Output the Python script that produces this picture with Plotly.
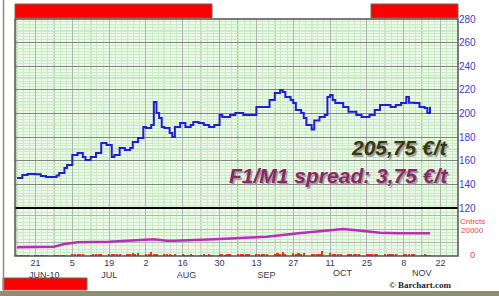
import plotly.graph_objects as go
import pandas as pd

# ---------------- data ----------------
price_dates = ["2010-06-14", "2010-06-16", "2010-06-18", "2010-06-21", "2010-06-23", "2010-06-25",
               "2010-06-28", "2010-06-29", "2010-06-30", "2010-07-02", "2010-07-03", "2010-07-05",
               "2010-07-07", "2010-07-09", "2010-07-10", "2010-07-12", "2010-07-14", "2010-07-16",
               "2010-07-18", "2010-07-20", "2010-07-21", "2010-07-23", "2010-07-25", "2010-07-27",
               "2010-07-28", "2010-07-30", "2010-08-01", "2010-08-02", "2010-08-04", "2010-08-05",
               "2010-08-06", "2010-08-07", "2010-08-08", "2010-08-09", "2010-08-11", "2010-08-12",
               "2010-08-13", "2010-08-15", "2010-08-17", "2010-08-19", "2010-08-20", "2010-08-22",
               "2010-08-24", "2010-08-26", "2010-08-28", "2010-08-30", "2010-08-31", "2010-09-03",
               "2010-09-05", "2010-09-08", "2010-09-10", "2010-09-13", "2010-09-15", "2010-09-18",
               "2010-09-20", "2010-09-22", "2010-09-23", "2010-09-24", "2010-09-26", "2010-09-27",
               "2010-09-28", "2010-09-30", "2010-10-01", "2010-10-02", "2010-10-04", "2010-10-05",
               "2010-10-07", "2010-10-09", "2010-10-10", "2010-10-11", "2010-10-12", "2010-10-13",
               "2010-10-16", "2010-10-18", "2010-10-21", "2010-10-23", "2010-10-26", "2010-10-28",
               "2010-10-30", "2010-11-01", "2010-11-03", "2010-11-05", "2010-11-07", "2010-11-09",
               "2010-11-10", "2010-11-12", "2010-11-14", "2010-11-16", "2010-11-17", "2010-11-18"]
price_vals = [145.5, 147.9, 148.8, 148.5, 147.1, 146.2,
              146.2, 147.5, 149.6, 153.9, 156.4, 164.9,
              166.6, 163.2, 160.6, 163.2, 166.6, 175.0,
              173.3, 163.2, 164.9, 170.8, 169.1, 170.8,
              175.9, 179.3, 188.6, 187.7, 190.3, 209.7,
              200.4, 196.2, 188.6, 187.7, 183.5, 180.1,
              188.6, 192.0, 188.6, 190.3, 192.8, 192.0,
              190.3, 188.6, 190.3, 198.7, 197.0, 198.7,
              200.4, 198.7, 198.7, 205.5, 205.5, 211.4,
              217.4, 219.9, 218.2, 214.0, 211.4, 208.9,
              203.0, 200.4, 196.2, 190.3, 186.5, 194.0,
              197.0, 198.7, 214.0, 215.7, 211.4, 208.9,
              205.5, 201.5, 198.7, 197.0, 198.7, 203.0,
              207.2, 207.2, 205.5, 207.2, 208.9, 214.0,
              209.0, 208.9, 205.5, 204.7, 200.4, 205.75]

oi_dates = ["2010-06-14", "2010-06-28", "2010-07-02", "2010-07-07", "2010-07-19", "2010-07-30",
            "2010-08-05", "2010-08-10", "2010-08-13", "2010-08-28", "2010-09-07", "2010-09-17",
            "2010-09-29", "2010-10-09", "2010-10-16", "2010-10-20", "2010-10-30", "2010-11-06",
            "2010-11-18"]
oi_vals = [6400, 6900, 8900, 10200, 10600, 11800,
           12400, 11300, 11300, 12400, 13600, 14300,
           16800, 18500, 20000, 19300, 17300, 16800,
           16800]

volume_weeks = [
    [200, 300, 250, 300, 400],
    [300, 350, 400, 300, 450],
    [500, 600, 400, 700, 500],
    [1500, 1800, 900, 1200, 800],
    [700, 1100, 900, 1300, 1000],
    [1400, 1000, 1700, 900, 1200],
    [1300, 1600, 2000, 1100, 2400],
    [1800, 1200, 2600, 1400, 1000],
    [900, 800, 1100, 700, 900],
    [800, 600, 700, 900, 600],
    [700, 800, 600, 900, 700],
    [800, 900, 700, 1000, 1200],
    [900, 1300, 1500, 1100, 1700],
    [1200, 1800, 1400, 1600, 1300],
    [1500, 1900, 1300, 2800, 1700],
    [2200, 1400, 1900, 1600, 2400],
    [1300, 1600, 1500, 1200, 3400],
    [1900, 1400, 1300, 1500, 1200],
    [1100, 1300, 1000, 1200, 900],
    [1000, 800, 1100, 900, 1000],
    [900, 1200, 1000, 1400, 1100],
    [900, 1000, 1600, 1100, 800],
    [700, 900, 600, 500],
]
volume_vals = [v for wk in volume_weeks for v in wk]
volume_dates = pd.bdate_range("2010-06-14", periods=len(volume_vals))

tick_dates = ["2010-06-21", "2010-07-05", "2010-07-19", "2010-08-02", "2010-08-16", "2010-08-30",
              "2010-09-13", "2010-09-27", "2010-10-11", "2010-10-25", "2010-11-08", "2010-11-22"]
tick_days = ["21", "5", "19", "2", "16", "30", "13", "27", "11", "25", "8", "22"]
# month names written under a day label: (day label index, month text, right-shift in nbsp)
month_under_tick = {0: ("JUN-10", 7), 2: ("JUL", 0), 4: ("AUG", 3), 6: ("SEP", 8)}
# month names placed between day labels
month_free_dates = ["2010-10-16", "2010-11-15"]
month_free_labels = ["OCT", "NOV"]
dark_grid_dates = ["2010-06-14", "2010-06-28", "2010-07-12", "2010-07-26", "2010-08-09", "2010-08-23",
                   "2010-09-06", "2010-09-20", "2010-10-04", "2010-10-18", "2010-11-01", "2010-11-15"]
price_mid_lines = [130, 150, 170, 190, 210, 230, 250, 270]

last_price_text = "205,75 €/t"
spread_text = "F1/M1 spread: 3,75 €/t"

# ---------------- styling ----------------
W, H = 499, 296
L, R, T, B = 15, 41, 19, 40
PW, PH = W - L - R, H - T - B
SPLIT = (256 - 208) / PH


def px(x):
    return (x - L) / PW


def py(y):
    return (H - B - y) / PH


BG = "#ecf9e9"
MINOR = "#cbebc7"
MED = "#b0b6b0"
DARK = "#7e847e"
TXT = "#38384f"

tick_text = []
for i, d in enumerate(tick_days):
    if i in month_under_tick:
        m, n = month_under_tick[i]
        tick_text.append(d + "<br>" + "\u00a0" * n + m)
    else:
        tick_text.append(d)

fig = go.Figure()
fig.add_trace(go.Bar(x=volume_dates, y=volume_vals, width=86400000 * 0.8,
                     marker=dict(color="#e4371e", line=dict(width=0)),
                     xaxis="x", yaxis="y2", hoverinfo="skip"))
fig.add_trace(go.Scatter(x=oi_dates, y=oi_vals, mode="lines",
                         line=dict(color="#b530b5", width=2.5),
                         xaxis="x", yaxis="y2"))
fig.add_trace(go.Scatter(x=price_dates, y=price_vals, mode="lines",
                         line=dict(color="#1e1ed2", width=2, shape="hv"),
                         xaxis="x", yaxis="y"))

shapes = []
for d in dark_grid_dates:
    shapes.append(dict(type="line", xref="x", yref="paper", x0=d, x1=d, y0=0, y1=1,
                       line=dict(color=DARK, width=1), layer="between"))
for v in price_mid_lines:
    shapes.append(dict(type="line", xref="paper", yref="y", x0=0, x1=1, y0=v, y1=v,
                       line=dict(color=MED, width=1), layer="between"))
# separator and frame
shapes.append(dict(type="line", xref="paper", yref="paper", x0=0, x1=1, y0=SPLIT, y1=SPLIT,
                   line=dict(color="#000000", width=2), layer="above"))
shapes.append(dict(type="rect", xref="paper", yref="paper", x0=0, x1=1, y0=0, y1=1,
                   line=dict(color="#505450", width=1.5), layer="above"))
# red bars
for (x0, x1, y0, y1, lay) in [(15, 212, 4, 18, "above"), (371, 458, 4, 18, "above"),
                              (3, 87, 278, 290, "below")]:
    shapes.append(dict(type="rect", xref="paper", yref="paper",
                       x0=px(x0), x1=px(x1), y0=py(y1), y1=py(y0),
                       fillcolor="#ff0000", line=dict(color="#6a6a50", width=1), layer=lay))
# outer border
shapes.append(dict(type="line", xref="paper", yref="paper", x0=px(3.5), x1=px(3.5),
                   y0=py(291), y1=py(0), line=dict(color="#8c8c7c", width=1.5), layer="above"))
shapes.append(dict(type="rect", xref="paper", yref="paper", x0=px(0), x1=px(499),
                   y0=py(296), y1=py(291), fillcolor="#8e8e76", line=dict(width=0), layer="above"))

ann = []
for d, t in zip(month_free_dates, month_free_labels):
    ann.append(dict(x=d, xref="x", y=py(273), yref="paper", text=t, showarrow=False,
                    font=dict(family="Liberation Sans", size=9, color=TXT),
                    xanchor="center", yanchor="middle", borderpad=0))
for t, yy in [("Cntrcts", 221), ("20000", 230)]:
    ann.append(dict(x=px(472), xref="paper", y=py(yy), yref="paper", text=t, showarrow=False,
                    font=dict(family="Liberation Sans", size=8, color="#e04a3c"),
                    xanchor="center", yanchor="middle", borderpad=0))
ann.append(dict(x=px(472), xref="paper", y=py(255), yref="paper", text="0", showarrow=False,
                font=dict(family="Liberation Sans", size=9, color="#e04a3c"),
                xanchor="center", yanchor="middle", borderpad=0))
for text, yy, col in [(last_price_text, 147.5, "#37370c"), (spread_text, 175, "#8a2866")]:
    ann.append(dict(x=px(450), xref="paper", y=py(yy), yref="paper",
                    text="<b><i>" + text + "</i></b>", showarrow=False,
                    font=dict(family="Liberation Sans", size=21, color=col,
                              shadow="1.5px 1.5px 1px #9a9a9a"),
                    xanchor="right", yanchor="middle"))
ann.append(dict(x=px(420), xref="paper", y=py(285), yref="paper",
                text="<b>© Barchart.com</b>", showarrow=False,
                font=dict(family="Liberation Serif", size=9, color="#1d1d2a"),
                xanchor="center", yanchor="middle", borderpad=0))

fig.update_layout(
    width=W, height=H,
    margin=dict(l=L, r=R, t=T, b=B, pad=0),
    paper_bgcolor="white", plot_bgcolor=BG,
    showlegend=False,
    bargap=0,
    shapes=shapes, annotations=ann,
    xaxis=dict(type="date", range=["2010-06-13 05:00", "2010-11-28 15:36"],
               anchor="y2", tickmode="array", tickvals=tick_dates, ticktext=tick_text,
               ticks="", showgrid=True, gridcolor=MED, gridwidth=1,
               minor=dict(tick0="2010-06-14", dtick=201600000, showgrid=True,
                          gridcolor=MINOR, gridwidth=1),
               tickfont=dict(family="Liberation Sans", size=9, color=TXT),
               showline=False, zeroline=False),
    yaxis=dict(domain=[SPLIT, 1], range=[120, 280], anchor="x", side="right",
               tickmode="linear", tick0=120, dtick=20, ticks="",
               showgrid=True, gridcolor=DARK, gridwidth=1,
               minor=dict(tick0=120, dtick=2.5, showgrid=True, gridcolor=MINOR, gridwidth=1),
               tickfont=dict(family="Liberation Sans", size=10, color="#3c3cc8"),
               showline=False, zeroline=False),
    yaxis2=dict(domain=[0, SPLIT], range=[0, 35555], anchor="x", side="right",
                tickmode="linear", tick0=0, dtick=10000, showticklabels=False, ticks="",
                showgrid=True, gridcolor=MED, gridwidth=1,
                minor=dict(tick0=0, dtick=2500, showgrid=True, gridcolor=MINOR, gridwidth=1),
                showline=False, zeroline=False),
)

fig.write_html("out.html", config={"displayModeBar": False},
               post_script="document.body.style.margin='0';document.body.style.overflow='hidden';")
